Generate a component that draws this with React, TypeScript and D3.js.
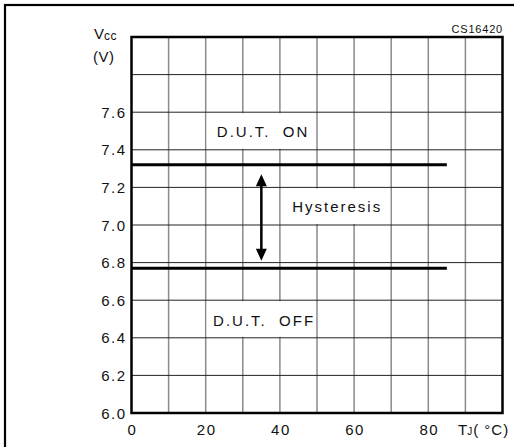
import React from "react";
import * as d3 from "d3";

const xDomain = [0, 100];
const yDomain = [6.0, 8.0];
const xTicks = [0, 20, 40, 60, 80];
const xGrid = [10, 20, 30, 40, 50, 60, 70, 80, 90];
const yTicks = [6.0, 6.2, 6.4, 6.6, 6.8, 7.0, 7.2, 7.4, 7.6];
const yGrid = [6.2, 6.4, 6.6, 6.8, 7.0, 7.2, 7.4, 7.6, 7.8];
const thresholdLevels = [7.32, 6.77];
const thresholdEnd = 85;
const arrowX = 35;
const arrowRange = [7.27, 6.81];
const labels = [
  { text: "D.U.T.  ON", x: 23, y: 7.47, box: [20, 50, 7.4, 7.6] },
  { text: "Hysteresis", x: 43.3, y: 7.07, box: [40, 70, 7.0, 7.2] },
  { text: "D.U.T.  OFF", x: 22, y: 6.465, box: [20, 50, 6.4, 6.6] },
];

const W = 514;
const H = 447;
const margin = { left: 131.5, top: 37, right: 11.5, bottom: 34 };
const FONT = "'Liberation Sans', Arial, Helvetica, sans-serif";

export default function App() {
  const x = d3.scaleLinear().domain(xDomain).range([margin.left, W - margin.right]);
  const y = d3.scaleLinear().domain(yDomain).range([H - margin.bottom, margin.top]);
  const [x0, x1] = x.range();
  const [y0, y1] = y.range();
  const arrowHead = 12;
  const arrowHalf = 5.5;
  const ay1 = y(arrowRange[0]);
  const ay2 = y(arrowRange[1]);
  const ax = x(arrowX);
  return (
    <svg width={W} height={H} style={{ position: "absolute", left: 0, top: 0, background: "#fff" }} fontFamily={FONT}>
      <rect x={0} y={0} width={W} height={H} fill="#fff" />
      {/* outer frame */}
      <rect x={5} y={5} width={W + 10} height={H + 10} fill="none" stroke="#000" strokeWidth={2.2} />
      {/* grid */}
      {xGrid.map((v) => (
        <line key={"gx" + v} x1={x(v)} x2={x(v)} y1={y0} y2={y1} stroke="#8a8a8a" strokeWidth={1.5} />
      ))}
      {yGrid.map((v) => (
        <line key={"gy" + v} x1={x0} x2={x1} y1={y(v)} y2={y(v)} stroke="#222" strokeWidth={1} />
      ))}
      {/* label boxes */}
      {labels.map((l) => (
        <rect
          key={"b" + l.text}
          x={x(l.box[0]) + 1}
          y={y(l.box[3]) + 1}
          width={x(l.box[1]) - x(l.box[0]) - 2}
          height={y(l.box[2]) - y(l.box[3]) - 2}
          fill="#fff"
        />
      ))}
      {/* plot border */}
      <rect x={x0} y={y1} width={x1 - x0} height={y0 - y1} fill="none" stroke="#000" strokeWidth={2.5} />
      {/* thresholds */}
      {thresholdLevels.map((v) => (
        <line key={"t" + v} x1={x0} x2={x(thresholdEnd)} y1={y(v)} y2={y(v)} stroke="#000" strokeWidth={3} />
      ))}
      {/* arrow */}
      <line x1={ax} x2={ax} y1={ay1 + arrowHead - 1} y2={ay2 - arrowHead + 1} stroke="#000" strokeWidth={2.5} />
      <path d={`M${ax},${ay1} L${ax - arrowHalf},${ay1 + arrowHead} L${ax + arrowHalf},${ay1 + arrowHead} Z`} fill="#000" />
      <path d={`M${ax},${ay2} L${ax - arrowHalf},${ay2 - arrowHead} L${ax + arrowHalf},${ay2 - arrowHead} Z`} fill="#000" />
      {/* labels */}
      {labels.map((l) => (
        <text key={l.text} x={x(l.x)} y={y(l.y)} fontSize={15} letterSpacing={2} fill="#111" style={{ whiteSpace: "pre" }}>
          {l.text}
        </text>
      ))}
      {/* y tick labels */}
      {yTicks.map((v) => (
        <text key={"yl" + v} x={x0 - 5} y={y(v) + 5.5} fontSize={15} letterSpacing={1.5} textAnchor="end" fill="#111">
          {v.toFixed(1)}
        </text>
      ))}
      {/* x tick labels */}
      {xTicks.map((v) => (
        <text key={"xl" + v} x={x(v) + 1} y={435} fontSize={15} letterSpacing={1.5} textAnchor="middle" fill="#111">
          {String(v)}
        </text>
      ))}
      {/* axis titles */}
      <text x={458} y={435} fontSize={15} fill="#111">
        T<tspan fontSize={10} dy={0}>J</tspan>
        <tspan fontSize={15} dx={1} letterSpacing={1}>( °C)</tspan>
      </text>
      <text x={94} y={39} fontSize={15} fill="#111">
        V<tspan fontSize={12} dy={1} letterSpacing={0.5}>cc</tspan>
      </text>
      <text x={93} y={62} fontSize={15} letterSpacing={0.5} fill="#111">(V)</text>
      <text x={503} y={33} fontSize={11} textAnchor="end" letterSpacing={0.8} fill="#111">CS16420</text>
    </svg>
  );
}
